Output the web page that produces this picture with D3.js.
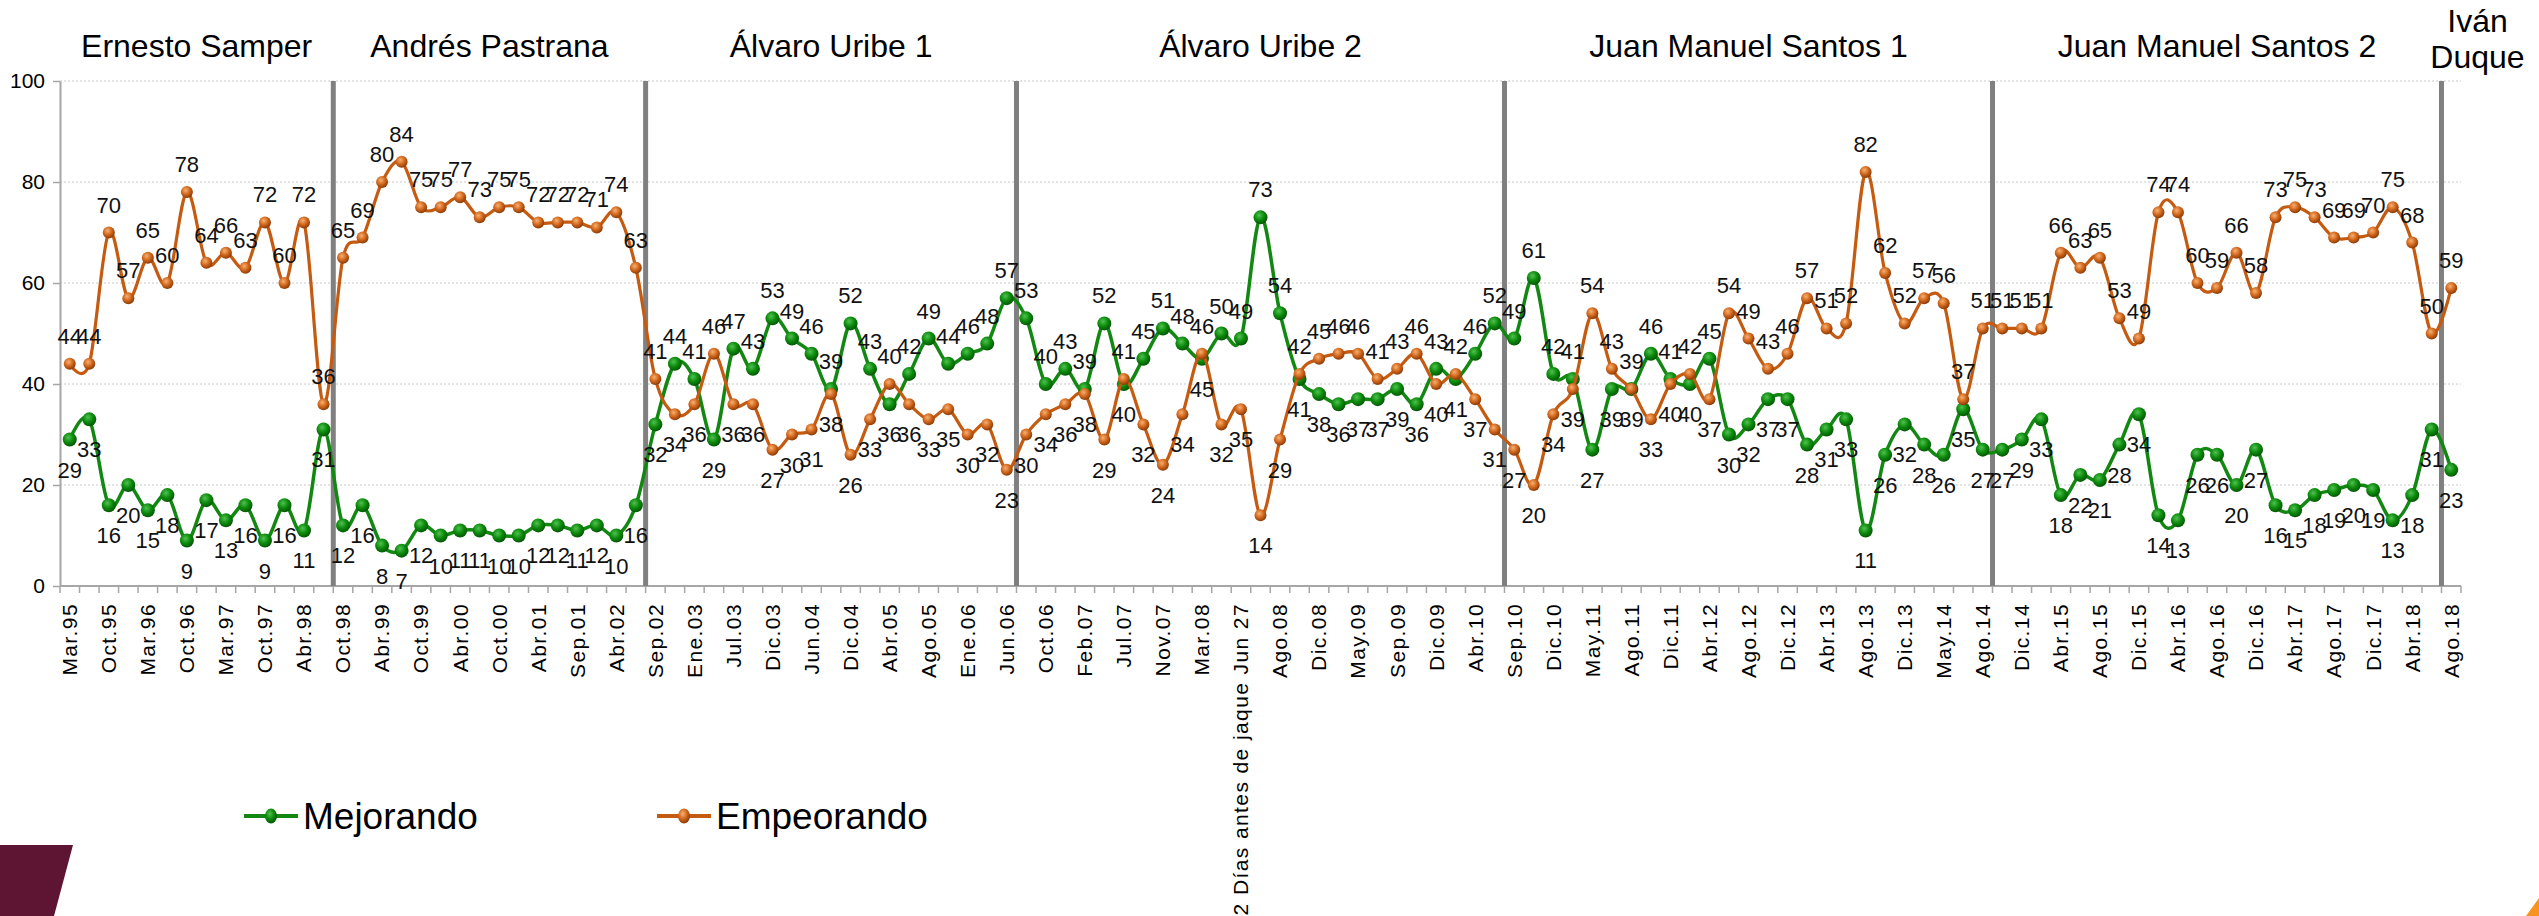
<!DOCTYPE html>
<html>
<head>
<meta charset="utf-8">
<script src="https://cdn.jsdelivr.net/npm/d3@7"></script>
<style>
  body { margin: 0; background: #fff; }
  text { font-family: "Liberation Sans", Arial, sans-serif; }
</style>
</head>
<body>
<div id="chart"></div>
<script>
// tick labels (one every two surveys)
const tickLabels = [
  "Mar.95", "Oct.95", "Mar.96", "Oct.96", "Mar.97", "Oct.97", "Abr.98",
  "Oct.98", "Abr.99", "Oct.99", "Abr.00", "Oct.00", "Abr.01", "Sep.01", "Abr.02",
  "Sep.02", "Ene.03", "Jul.03", "Dic.03", "Jun.04", "Dic.04", "Abr.05", "Ago.05", "Ene.06", "Jun.06",
  "Oct.06", "Feb.07", "Jul.07", "Nov.07", "Mar.08", "2 Días antes de jaque Jun 27", "Ago.08", "Dic.08", "May.09", "Sep.09", "Dic.09", "Abr.10",
  "Sep.10", "Dic.10", "May.11", "Ago.11", "Dic.11", "Abr.12", "Ago.12", "Dic.12", "Abr.13", "Ago.13", "Dic.13", "May.14", "Ago.14",
  "Dic.14", "Abr.15", "Ago.15", "Dic.15", "Abr.16", "Ago.16", "Dic.16", "Abr.17", "Ago.17", "Dic.17", "Abr.18", "Ago.18"
];

const mejorando = [
  29, 33, 16, 20, 15, 18, 9, 17, 13, 16, 9, 16, 11, 31,
  12, 16, 8, 7, 12, 10, 11, 11, 10, 10, 12, 12, 11, 12, 10, 16,
  32, 44, 41, 29, 47, 43, 53, 49, 46, 39, 52, 43, 36, 42, 49, 44, 46, 48, 57,
  53, 40, 43, 39, 52, 40, 45, 51, 48, 45, 50, 49, 73, 54, 41, 38, 36, 37, 37, 39, 36, 43, 41, 46, 52,
  49, 61, 42, 41, 27, 39, 39, 46, 41, 40, 45, 30, 32, 37, 37, 28, 31, 33, 11, 26, 32, 28, 26, 35, 27,
  27, 29, 33, 18, 22, 21, 28, 34, 14, 13, 26, 26, 20, 27, 16, 15, 18, 19, 20, 19, 13, 18, 31,
  23
];

const empeorando = [
  44, 44, 70, 57, 65, 60, 78, 64, 66, 63, 72, 60, 72, 36,
  65, 69, 80, 84, 75, 75, 77, 73, 75, 75, 72, 72, 72, 71, 74, 63,
  41, 34, 36, 46, 36, 36, 27, 30, 31, 38, 26, 33, 40, 36, 33, 35, 30, 32, 23,
  30, 34, 36, 38, 29, 41, 32, 24, 34, 46, 32, 35, 14, 29, 42, 45, 46, 46, 41, 43, 46, 40, 42, 37, 31,
  27, 20, 34, 39, 54, 43, 39, 33, 40, 42, 37, 54, 49, 43, 46, 57, 51, 52, 82, 62, 52, 57, 56, 37, 51,
  51, 51, 51, 66, 63, 65, 53, 49, 74, 74, 60, 59, 66, 58, 73, 75, 73, 69, 69, 70, 75, 68, 50,
  59
];

// presidential terms and the index of their first survey
const terms = ["Ernesto Samper", "Andrés Pastrana", "Álvaro Uribe 1", "Álvaro Uribe 2",
  "Juan Manuel Santos 1", "Juan Manuel Santos 2", "Iván Duque"];
const termStarts = [0, 14, 30, 49, 74, 99, 122];

const width = 2539, height = 916;
const plot = { left: 60, right: 2461, top: 81, bottom: 586 };
const n = mejorando.length;

const svg = d3.select("#chart").append("svg")
  .attr("width", width)
  .attr("height", height)
  .style("background", "#fff");

const x = d3.scaleBand()
  .domain(d3.range(n))
  .range([plot.left, plot.right])
  .padding(0);

const y = d3.scaleLinear()
  .domain([0, 100])
  .range([plot.bottom, plot.top]);

const cx = i => x(i) + x.bandwidth() / 2;

// gradients for the 3D looking markers
const defs = svg.append("defs");
function ball(id, light, mid, dark) {
  const g = defs.append("radialGradient").attr("id", id)
    .attr("cx", "40%").attr("cy", "35%").attr("r", "65%");
  g.append("stop").attr("offset", "0%").attr("stop-color", light);
  g.append("stop").attr("offset", "55%").attr("stop-color", mid);
  g.append("stop").attr("offset", "100%").attr("stop-color", dark);
}
ball("gGreen", "#4fc24f", "#0c8a0c", "#055805");
ball("gOrange", "#f7b070", "#d0661c", "#8c3c08");

// gridlines
svg.append("g")
  .selectAll("line")
  .data([20, 40, 60, 80, 100])
  .join("line")
  .attr("x1", plot.left)
  .attr("x2", plot.right)
  .attr("y1", d => y(d))
  .attr("y2", d => y(d))
  .style("stroke", "#c8c8c8")
  .style("stroke-width", 1)
  .style("stroke-dasharray", "2,2");

// y axis
const yAxis = svg.append("g")
  .attr("transform", `translate(${plot.left},0)`)
  .call(d3.axisLeft(y).tickValues([0, 20, 40, 60, 80, 100]).tickSize(7).tickPadding(8).tickSizeOuter(0));
yAxis.select(".domain").style("stroke", "#a6a6a6").style("stroke-width", 2);
yAxis.selectAll(".tick line").style("stroke", "#a6a6a6").style("stroke-width", 1.5);
yAxis.selectAll(".tick text")
  .style("font-size", "21px")
  .style("fill", "#000")
  .style("font-family", '"Liberation Sans", Arial, sans-serif');

// x axis: line, ticks on category boundaries, rotated labels
const xg = svg.append("g");
xg.append("line")
  .attr("x1", plot.left).attr("x2", plot.right)
  .attr("y1", y(0)).attr("y2", y(0))
  .style("stroke", "#a6a6a6").style("stroke-width", 2);

xg.selectAll(".xtick")
  .data(d3.range(n + 1))
  .join("line")
  .attr("class", "xtick")
  .attr("x1", d => d < n ? x(d) : plot.right)
  .attr("x2", d => d < n ? x(d) : plot.right)
  .attr("y1", y(0))
  .attr("y2", y(0) + 7)
  .style("stroke", "#a6a6a6")
  .style("stroke-width", 1.5);

xg.selectAll(".xlabel")
  .data(tickLabels)
  .join("text")
  .attr("class", "xlabel")
  .attr("transform", (d, i) => `translate(${cx(i * 2)},${y(0) + 17}) rotate(-90)`)
  .attr("dy", "0.35em")
  .attr("text-anchor", "end")
  .style("font-size", "21px")
  .style("letter-spacing", "1.4px")
  .text(d => d);

// separators between presidential terms
svg.append("g")
  .selectAll("line")
  .data(termStarts.slice(1))
  .join("line")
  .attr("x1", d => x(d))
  .attr("x2", d => x(d))
  .attr("y1", y(100))
  .attr("y2", y(0))
  .style("stroke", "#808080")
  .style("stroke-width", 5);

// term titles
svg.append("g")
  .selectAll("text")
  .data(terms)
  .join("text")
  .attr("text-anchor", "middle")
  .style("font-size", "32px")
  .style("fill", "#000")
  .each(function(d, i) {
    const a = termStarts[i];
    const b = i + 1 < termStarts.length ? termStarts[i + 1] : n;
    const end = b < n ? x(b) : plot.right;
    const el = d3.select(this);
    if (i === terms.length - 1) {
      // last term has a single survey, name on two lines beside the separator
      const parts = d.split(" ");
      el.attr("x", x(a) + 36).attr("y", 32);
      el.selectAll("tspan").data(parts).join("tspan")
        .attr("x", x(a) + 36)
        .attr("dy", (p, k) => k === 0 ? 0 : 36)
        .text(p => p);
    } else {
      el.attr("x", (x(a) + end) / 2).attr("y", 57).text(d);
    }
  });

const series = [
  { name: "Mejorando", values: mejorando, other: empeorando, color: "#128812", fill: "url(#gGreen)", r: 7, w: 3.5 },
  { name: "Empeorando", values: empeorando, other: mejorando, color: "#c55a11", fill: "url(#gOrange)", r: 6, w: 3.2 }
];

const line = d3.line()
  .x((d, i) => cx(i))
  .y(d => y(d))
  .curve(d3.curveCardinal.tension(0));

series.forEach(s => {
  const g = svg.append("g");
  g.append("path")
    .datum(s.values)
    .attr("d", line)
    .style("fill", "none")
    .style("stroke", s.color)
    .style("stroke-width", s.w);

  g.selectAll("circle")
    .data(s.values)
    .join("circle")
    .attr("cx", (d, i) => cx(i))
    .attr("cy", d => y(d))
    .attr("r", s.r)
    .style("fill", s.fill);
});

// data labels: higher series above, lower series below
series.forEach((s, k) => {
  svg.append("g")
    .selectAll("text")
    .data(s.values)
    .join("text")
    .attr("x", (d, i) => cx(i))
    .attr("y", (d, i) => {
      const above = d > s.other[i] || (d === s.other[i] && k === 1);
      return above ? y(d) - 20 : y(d) + 38;
    })
    .attr("text-anchor", "middle")
    .style("font-size", "22px")
    .style("fill", "#111")
    .text(d => d);
});

// legend
const legend = svg.append("g");
const legendItems = [
  { s: series[0], x0: 244 },
  { s: series[1], x0: 657 }
];
legendItems.forEach(it => {
  legend.append("line")
    .attr("x1", it.x0).attr("x2", it.x0 + 54)
    .attr("y1", 816).attr("y2", 816)
    .style("stroke", it.s.color).style("stroke-width", 4);
  legend.append("ellipse")
    .attr("cx", it.x0 + 27).attr("cy", 816)
    .attr("rx", 6).attr("ry", 7.5)
    .style("fill", it.s.fill);
  legend.append("text")
    .attr("x", it.x0 + 59).attr("y", 829)
    .style("font-size", "37px")
    .style("fill", "#000")
    .text(it.s.name);
});

// slide decorations at the corners
svg.append("polygon")
  .attr("points", "0,845 73,845 54,916 0,916")
  .style("fill", "#5e1433");
svg.append("polygon")
  .attr("points", "2539,898 2539,916 2526,916")
  .style("fill", "#f7931e");
</script>
</body>
</html>
